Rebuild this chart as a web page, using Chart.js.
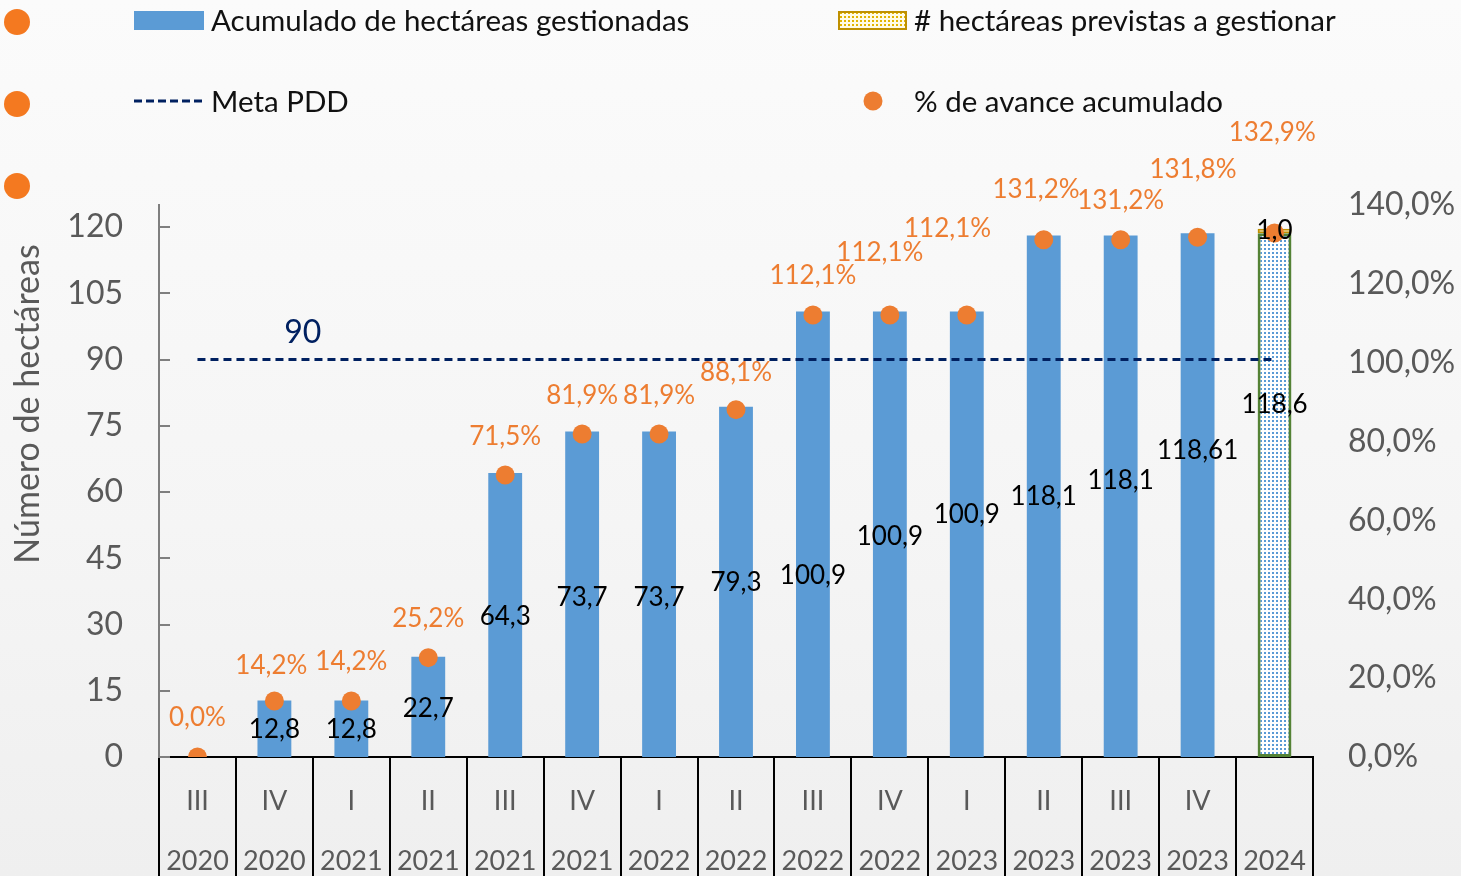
<!DOCTYPE html>
<html><head><meta charset="utf-8">
<script src="https://cdn.jsdelivr.net/npm/chart.js@4.4.1/dist/chart.umd.min.js"></script>
<style>
html,body{margin:0;padding:0;}
body{width:1461px;height:876px;overflow:hidden;background:linear-gradient(180deg,#fbfbfb 0%,#f5f5f5 60%,#efefef 100%);}
canvas{display:block;}
</style></head><body>
<canvas id="c" width="1461" height="876"></canvas>
<script>
// ---- data ----
const quarters = ['III','IV','I','II','III','IV','I','II','III','IV','I','II','III','IV',''];
const years = ['2020','2020','2021','2021','2021','2021','2022','2022','2022','2022','2023','2023','2023','2023','2024'];
const hectareasAcumuladas = [0,12.8,12.8,22.7,64.3,73.7,73.7,79.3,100.9,100.9,100.9,118.1,118.1,118.61,118.6];
const hectareasPrevistas = [null,null,null,null,null,null,null,null,null,null,null,null,null,null,1.0];
const metaPDD = 90;
const avancePct = [0,14.2,14.2,25.2,71.5,81.9,81.9,88.1,112.1,112.1,112.1,131.2,131.2,131.8,132.9];
const leftTicks = [0,15,30,45,60,75,90,105,120];
const rightTicks = [0,20,40,60,80,100,120,140];
// label anchors (value units) as placed in the original
const barLabelAt = [null,6.1,6.1,10.9,31.7,36.2,36.2,39.4,41.0,50.0,55.0,58.9,62.7,69.3,79.7];
const pctLabelAt = [9.9,23.1,24.1,35.0,81.2,91.6,91.6,97.6,122.0,127.8,133.9,143.8,141.0,148.9,158.3];
const pctLabelShift = [0,-0.04,0,0,0,0,0,0,0,-0.13,-0.25,-0.1,0,-0.06,-0.03];

const FONT = 'Lato, "Open Sans", sans-serif';
const BLUE = '#5B9BD5', ORANGE = '#ED7D31', NAVY = '#002060', GRAY = '#595959';

function makePattern(bg, dot, size, dotSize){
  const c = document.createElement('canvas'); c.width = size; c.height = size;
  const x = c.getContext('2d');
  x.fillStyle = bg; x.fillRect(0,0,size,size);
  x.fillStyle = dot; x.fillRect(0,0,dotSize,dotSize);
  return x.createPattern(c,'repeat');
}
const bluePattern = makePattern('#ffffff', BLUE, 4, 2);
const goldPattern = makePattern('#fffbe6', '#E3B400', 4, 2);

const n = quarters.length;
const acumBg = hectareasAcumuladas.map((v,i)=> i===n-1 ? bluePattern : BLUE);
const acumBorder = hectareasAcumuladas.map((v,i)=> i===n-1 ? '#548235' : BLUE);
const acumBorderW = hectareasAcumuladas.map((v,i)=> i===n-1 ? 3 : 0);

const fmt = v => String(v).replace('.', ',');

const decorPlugin = {
  id: 'decor',
  afterDatasetsDraw(chart){
    const ctx = chart.ctx, x = chart.scales.x, y = chart.scales.y, y1 = chart.scales.y1;
    const area = chart.chartArea;
    ctx.save();
    // inner ticks on left axis
    ctx.strokeStyle = '#7f7f7f'; ctx.lineWidth = 2;
    y.ticks.forEach(t => { const py = Math.round(y.getPixelForValue(t.value)); ctx.beginPath(); ctx.moveTo(area.left, py); ctx.lineTo(area.left+11, py); ctx.stroke(); });
    // bar value labels
    ctx.textAlign = 'center'; ctx.textBaseline = 'middle';
    ctx.font = '26px ' + FONT; ctx.fillStyle = '#000';
    hectareasAcumuladas.forEach((v,i) => {
      if (!v || barLabelAt[i] == null) return;
      ctx.fillText(fmt(v), x.getPixelForValue(i), y.getPixelForValue(barLabelAt[i]));
    });
    hectareasPrevistas.forEach((v,i) => {
      if (v == null) return;
      ctx.fillText(fmt(v.toFixed(1)), x.getPixelForValue(i), y.getPixelForValue(hectareasAcumuladas[i] + v/2));
    });
    // percent labels
    ctx.fillStyle = ORANGE;
    avancePct.forEach((v,i) => {
      ctx.fillText(fmt(v.toFixed(1)) + '%', x.getPixelForValue(i + pctLabelShift[i]), y1.getPixelForValue(pctLabelAt[i]));
    });
    ctx.restore();
  },
  afterDraw(chart){
    const ctx = chart.ctx, x = chart.scales.x, y = chart.scales.y;
    ctx.save();
    // meta label
    ctx.font = '32px ' + FONT; ctx.fillStyle = NAVY; ctx.textAlign = 'center'; ctx.textBaseline = 'middle';
    ctx.fillText(String(metaPDD), x.getPixelForValue(1.37), y.getPixelForValue(metaPDD) - 27);
    // y axis title
    ctx.save();
    ctx.translate(28, 404); ctx.rotate(-Math.PI/2);
    ctx.font = '34px ' + FONT; ctx.fillStyle = GRAY;
    ctx.fillText('Número de hectáreas', 0, 0);
    ctx.restore();
    // legend
    ctx.textAlign = 'left'; ctx.textBaseline = 'middle';
    ctx.font = '29.5px ' + FONT;
    ctx.fillStyle = BLUE; ctx.fillRect(134, 11, 70, 19);
    ctx.fillStyle = '#111'; ctx.fillText('Acumulado de hectáreas gestionadas', 211, 21);
    ctx.fillStyle = goldPattern; ctx.fillRect(839, 12, 67, 17);
    ctx.strokeStyle = '#BF9000'; ctx.lineWidth = 2; ctx.strokeRect(839, 12, 67, 17);
    ctx.fillStyle = '#111'; ctx.fillText('# hectáreas previstas a gestionar', 914, 21);
    ctx.strokeStyle = NAVY; ctx.lineWidth = 3; ctx.setLineDash([8,4]);
    ctx.beginPath(); ctx.moveTo(134, 101); ctx.lineTo(204, 101); ctx.stroke(); ctx.setLineDash([]);
    ctx.fillStyle = '#111'; ctx.fillText('Meta PDD', 211, 102);
    ctx.fillStyle = ORANGE; ctx.beginPath(); ctx.arc(873, 101, 9.5, 0, Math.PI*2); ctx.fill();
    ctx.fillStyle = '#111'; ctx.fillText('% de avance acumulado', 914, 102);
    // stray marker dots at the left edge
    ctx.fillStyle = '#F47920';
    [22, 104, 186].forEach(cy => { ctx.beginPath(); ctx.arc(17, cy, 13, 0, Math.PI*2); ctx.fill(); });
    ctx.restore();
  }
};

new Chart(document.getElementById('c'), {
  data: {
    labels: quarters.map((q,i) => [q, years[i]]),
    datasets: [
      { type:'line', label:'% de avance acumulado', data: avancePct, yAxisID:'y1', showLine:false,
        pointRadius:9.5, pointBackgroundColor:ORANGE, pointBorderWidth:0, order:0 },
      { type:'line', label:'Meta PDD', data: quarters.map(()=>metaPDD), yAxisID:'y',
        borderColor:NAVY, borderWidth:3, borderDash:[8,5], pointRadius:0, fill:false, order:1, stack:'meta' },
      { type:'bar', label:'Acumulado de hectáreas gestionadas', data: hectareasAcumuladas, yAxisID:'y',
        backgroundColor: acumBg, borderColor: acumBorder, borderWidth: acumBorderW, borderSkipped:false,
        barPercentage:0.44, categoryPercentage:1, stack:'h', order:2 },
      { type:'bar', label:'# hectáreas previstas a gestionar', data: hectareasPrevistas, yAxisID:'y',
        backgroundColor: goldPattern, borderColor:'#BF9000', borderWidth:2, borderSkipped:false,
        barPercentage:0.44, categoryPercentage:1, stack:'h', order:2 }
    ]
  },
  options: {
    responsive:false, animation:false, devicePixelRatio:1,
    layout:{ padding:{ top:205, left:0, right:0, bottom:0 } },
    plugins:{ legend:{display:false}, tooltip:{enabled:false} },
    scales:{
      x:{ stacked:true, offset:true,
        grid:{ offset:true, drawOnChartArea:false, drawTicks:true, tickLength:119, color:'#000', lineWidth:2 },
        border:{ display:true, color:'#000', width:2 },
        ticks:{ color:GRAY, font:{ family:FONT, size:27, lineHeight:2.2 }, padding:-104, maxRotation:0, autoSkip:false },
        afterFit(s){ s.height = 119; }
      },
      y:{ stacked:true, position:'left', min:0, max:125,
        grid:{ display:false, drawTicks:false },
        border:{ display:true, color:'#7f7f7f', width:2 },
        ticks:{ color:GRAY, font:{ family:FONT, size:32 }, padding:36 },
        afterBuildTicks(s){ s.ticks = leftTicks.map(v => ({ value: v })); },
        afterFit(s){ s.width = 159; }
      },
      y1:{ position:'right', min:0, max:140,
        grid:{ display:false, drawTicks:false }, border:{ display:false },
        ticks:{ color:GRAY, font:{ family:FONT, size:32 }, padding:35,
          callback: v => fmt(Number(v).toFixed(1)) + '%' },
        afterBuildTicks(s){ s.ticks = rightTicks.map(v => ({ value: v })); },
        afterFit(s){ s.width = 148; }
      }
    }
  },
  plugins:[decorPlugin]
});
</script>
</body></html>
